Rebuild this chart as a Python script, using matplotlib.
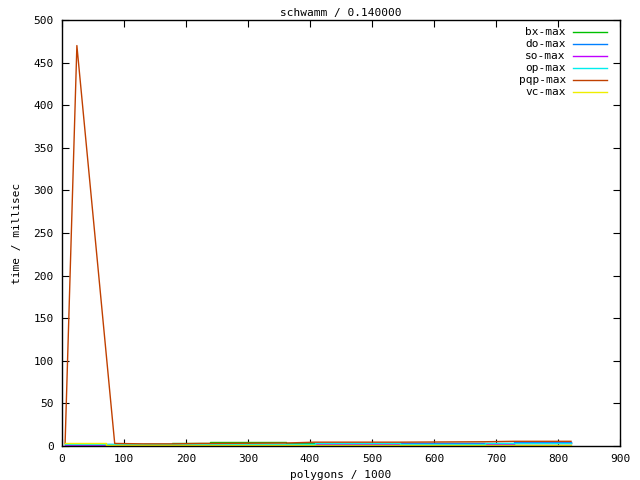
import numpy as np
import matplotlib
matplotlib.use("Agg")
import matplotlib.pyplot as plt

# polygon counts (x1000) where the measured times change
breaks = [5, 40, 71, 132, 177, 224, 239, 361, 408, 545, 682, 729, 821]

# max time per segment (ms), one value per break (last repeats for steps)
bx_max = [2.5, 2.0, 1.5, 2.0, 3.5, 3.5, 4.5, 3.0, 4.0, 3.5, 2.0, 3.0, 3.0]
do_max = [1.0, 1.0, 2.5, 2.0, 2.0, 2.0, 2.0, 2.0, 2.5, 3.0, 3.5, 5.0, 5.0]
so_max = [1.5, 1.0, 1.0, 1.5, 1.5, 1.5, 1.5, 1.5, 2.0, 2.5, 2.5, 3.0, 3.0]
op_max = [2.5, 2.0, 2.0, 2.0, 2.0, 2.0, 2.5, 2.5, 3.0, 2.5, 3.0, 4.0, 4.0]
vc_max = [3.5, 3.0, 1.5, 1.5, 1.5, 1.5, 1.5, 1.0, 1.0, 1.0, 1.0, 1.5, 1.5]

# pqp has a spike at the start
pqp_x = [5, 24, 85, 132, 177, 224, 239, 361, 408, 545, 682, 729, 821]
pqp_y = [3.0, 470.0, 3.0, 2.5, 2.5, 3.0, 3.0, 3.5, 4.5, 4.5, 5.0, 5.5, 5.5]

labels = ["bx-max", "do-max", "so-max", "op-max", "pqp-max", "vc-max"]
colors = ["#00c000", "#0080ff", "#c000ff", "#00eeee", "#c04000", "#eeee00"]

plt.rcParams.update({"font.family": "DejaVu Sans Mono", "font.size": 8})
fig = plt.figure(figsize=(6.4, 4.8), dpi=100)
ax = fig.add_axes([62 / 640, 34 / 480, 558 / 640, 426 / 480])

step_series = {"bx-max": bx_max, "do-max": do_max, "so-max": so_max,
               "op-max": op_max, "vc-max": vc_max}

for name, color in zip(labels, colors):
    if name == "pqp-max":
        ax.plot(pqp_x, pqp_y, color=color, lw=1.0)
    else:
        ax.plot(breaks, step_series[name], color=color, lw=1.0, drawstyle="steps-post")

ax.set_xlim(0, 900)
ax.set_ylim(0, 500)
ax.set_xticks(np.arange(0, 901, 100))
ax.set_yticks(np.arange(0, 501, 50))
ax.tick_params(direction="in", top=True, right=True, length=5, width=0.8, pad=6)
for s in ax.spines.values():
    s.set_linewidth(1.0)

ax.set_title("schwamm / 0.140000", fontsize=8, pad=3)
ax.set_xlabel("polygons / 1000", labelpad=4)
ax.set_ylabel("time / millisec", labelpad=8)

# gnuplot style key: right-aligned text, line sample to the right
y0 = 0.972
for i, (name, color) in enumerate(zip(labels, colors)):
    y = y0 - i * 0.0282
    ax.text(0.903, y, name, ha="right", va="center", transform=ax.transAxes)
    ax.plot([0.916, 0.977], [y, y], color=color, lw=1.0, transform=ax.transAxes)

fig.savefig("out.png", dpi=100)
